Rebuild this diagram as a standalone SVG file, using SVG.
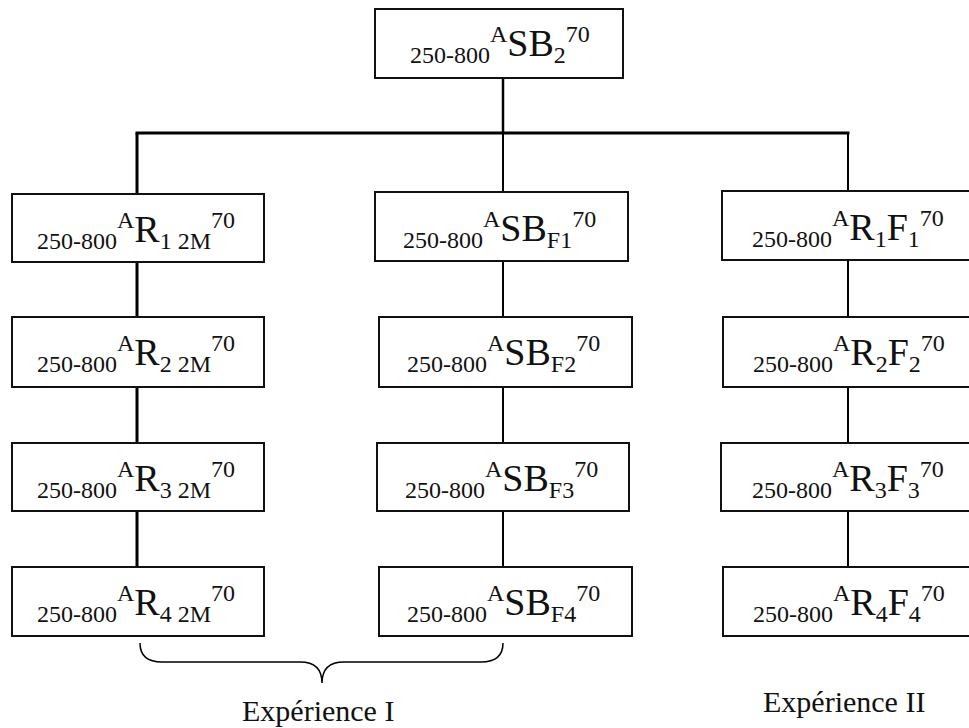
<svg xmlns="http://www.w3.org/2000/svg" width="969" height="728" viewBox="0 0 969 728">
<style>
.box{fill:#fff;stroke:#111;stroke-width:2}
text{font-family:"Liberation Serif","Times New Roman",serif;fill:#111;font-size:24px}
.big{font-size:38px}
.con{stroke:#000;fill:none}
.lbl{font-size:30px}
</style>
<rect width="969" height="728" fill="#fff"/>
<g id="connectors">
<line class="con" x1="503" y1="78" x2="503" y2="133" stroke-width="2.5"/>
<line class="con" x1="135.5" y1="133" x2="849.5" y2="133" stroke-width="3"/>
<line class="con" x1="137" y1="133" x2="137" y2="567" stroke-width="3"/>
<line class="con" x1="503" y1="133" x2="503" y2="567" stroke-width="2"/>
<line class="con" x1="848" y1="133" x2="848" y2="567" stroke-width="2"/>
<path class="con" stroke-width="1.5" d="M140,643 Q140,662 162,662 L300,662 Q322,662 322,683 Q322,662 344,662 L481,662 Q503,662 503,643"/>
</g>
<g id="top">
<rect class="box" x="375" y="9" width="248" height="69"/>
<text x="410" y="63">250-800<tspan dy="-21">A</tspan><tspan class="big" dy="14">SB</tspan><tspan dy="7">2</tspan><tspan dy="-21">70</tspan></text>
</g>
<g id="L1"><rect class="box" x="12" y="194" width="252" height="68"/>
<text x="37" y="249">250-800<tspan dy="-21">A</tspan><tspan class="big" dy="14">R</tspan><tspan dy="7">1 2M</tspan><tspan dy="-21">70</tspan></text></g>
<g id="L2"><rect class="box" x="12" y="317" width="252" height="70"/>
<text x="37" y="372">250-800<tspan dy="-21">A</tspan><tspan class="big" dy="14">R</tspan><tspan dy="7">2 2M</tspan><tspan dy="-21">70</tspan></text></g>
<g id="L3"><rect class="box" x="12" y="443" width="252" height="68"/>
<text x="37" y="498">250-800<tspan dy="-21">A</tspan><tspan class="big" dy="14">R</tspan><tspan dy="7">3 2M</tspan><tspan dy="-21">70</tspan></text></g>
<g id="L4"><rect class="box" x="12" y="567" width="252" height="69"/>
<text x="37" y="622">250-800<tspan dy="-21">A</tspan><tspan class="big" dy="14">R</tspan><tspan dy="7">4 2M</tspan><tspan dy="-21">70</tspan></text></g>
<g id="M1"><rect class="box" x="375" y="192" width="253" height="69"/>
<text x="403" y="248">250-800<tspan dy="-21">A</tspan><tspan class="big" dy="14">SB</tspan><tspan dy="7">F1</tspan><tspan dy="-21">70</tspan></text></g>
<g id="M2"><rect class="box" x="379" y="317" width="253" height="70"/>
<text x="407" y="372">250-800<tspan dy="-21">A</tspan><tspan class="big" dy="14">SB</tspan><tspan dy="7">F2</tspan><tspan dy="-21">70</tspan></text></g>
<g id="M3"><rect class="box" x="377" y="443" width="252" height="68"/>
<text x="405" y="498">250-800<tspan dy="-21">A</tspan><tspan class="big" dy="14">SB</tspan><tspan dy="7">F3</tspan><tspan dy="-21">70</tspan></text></g>
<g id="M4"><rect class="box" x="379" y="567" width="253" height="69"/>
<text x="407" y="622">250-800<tspan dy="-21">A</tspan><tspan class="big" dy="14">SB</tspan><tspan dy="7">F4</tspan><tspan dy="-21">70</tspan></text></g>
<g id="R1"><rect class="box" x="722" y="191" width="260" height="69"/>
<text x="752" y="247">250-800<tspan dy="-21">A</tspan><tspan class="big" dy="14">R</tspan><tspan dy="7">1</tspan><tspan class="big" dy="-7">F</tspan><tspan dy="7">1</tspan><tspan dy="-21">70</tspan></text></g>
<g id="R2"><rect class="box" x="723" y="317" width="260" height="70"/>
<text x="753" y="372">250-800<tspan dy="-21">A</tspan><tspan class="big" dy="14">R</tspan><tspan dy="7">2</tspan><tspan class="big" dy="-7">F</tspan><tspan dy="7">2</tspan><tspan dy="-21">70</tspan></text></g>
<g id="R3"><rect class="box" x="721" y="443" width="260" height="68"/>
<text x="752" y="498">250-800<tspan dy="-21">A</tspan><tspan class="big" dy="14">R</tspan><tspan dy="7">3</tspan><tspan class="big" dy="-7">F</tspan><tspan dy="7">3</tspan><tspan dy="-21">70</tspan></text></g>
<g id="R4"><rect class="box" x="723" y="567" width="260" height="69"/>
<text x="753" y="622">250-800<tspan dy="-21">A</tspan><tspan class="big" dy="14">R</tspan><tspan dy="7">4</tspan><tspan class="big" dy="-7">F</tspan><tspan dy="7">4</tspan><tspan dy="-21">70</tspan></text></g>
<g id="labels">
<text class="lbl" x="242" y="721">Expérience I</text>
<text class="lbl" x="763" y="712">Expérience II</text>
</g>
</svg>
